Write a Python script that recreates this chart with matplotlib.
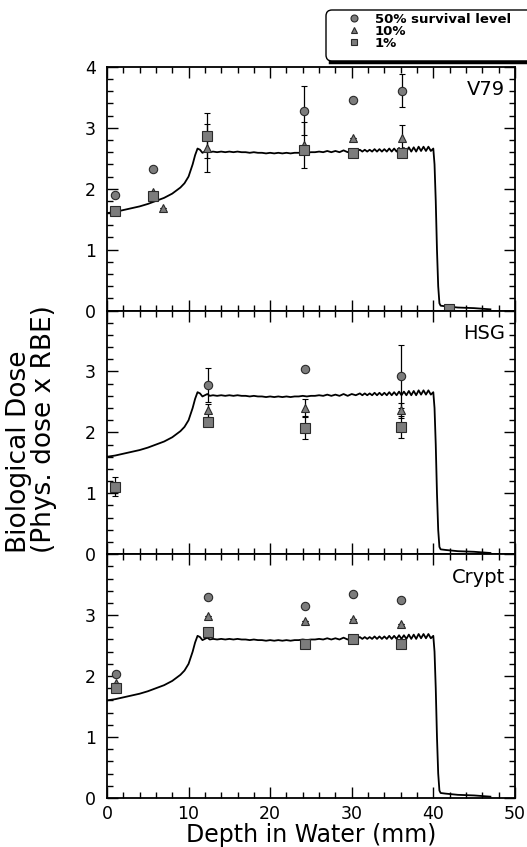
import matplotlib
matplotlib.use("Agg")
import matplotlib.pyplot as plt
from matplotlib.lines import Line2D
from matplotlib.patches import FancyBboxPatch
from matplotlib.ticker import MultipleLocator

# biological dose-depth curve (same curve drawn in every panel)
curve_depth = [0, 1, 2, 3, 4, 5, 6, 7, 8, 9, 9.5, 10, 10.5, 10.8, 11.1, 11.4, 11.7,
               12.0, 12.3, 12.6,
               13.0, 13.5, 14.0, 14.5, 15.0, 15.5, 16.0, 16.5, 17.0, 17.5, 18.0, 18.5,
               19.0, 19.5, 20.0, 20.5, 21.0, 21.5, 22.0, 22.5, 23.0, 23.5, 24.0, 24.5,
               25.0, 25.5, 26.0, 26.5, 27.0, 27.5, 28.0, 28.5, 29.0, 29.5, 30.0, 30.5,
               31.0,
               31.3, 31.6, 31.9, 32.2, 32.5, 32.8, 33.1, 33.4, 33.7, 34.0, 34.3, 34.6,
               34.9, 35.2, 35.5, 35.8, 36.1, 36.4, 36.7, 37.0, 37.3, 37.6, 37.9, 38.2,
               38.5, 38.8, 39.1, 39.4, 39.7, 40.0,
               40.15, 40.3, 40.45, 40.6, 40.75, 40.9, 41.5, 43, 45, 47]
curve_dose = [1.60, 1.62, 1.65, 1.68, 1.71, 1.75, 1.80, 1.85, 1.92, 2.02, 2.09, 2.20,
              2.40, 2.55, 2.66, 2.64, 2.59, 2.61, 2.63, 2.60,
              2.61, 2.60, 2.61, 2.60, 2.61, 2.60, 2.61, 2.60, 2.60, 2.59, 2.60, 2.59,
              2.59, 2.58, 2.59, 2.58, 2.59, 2.58, 2.59, 2.58, 2.59, 2.59, 2.60, 2.59,
              2.60, 2.60, 2.61, 2.60, 2.62, 2.60, 2.62, 2.60, 2.63, 2.60, 2.63, 2.61,
              2.64,
              2.61, 2.64, 2.61, 2.64, 2.61, 2.65, 2.61, 2.65, 2.61, 2.65, 2.61, 2.66,
              2.61, 2.66, 2.61, 2.67, 2.61, 2.67, 2.61, 2.68, 2.61, 2.68, 2.61, 2.69,
              2.62, 2.69, 2.62, 2.69, 2.62, 2.66,
              2.40, 1.80, 1.00, 0.40, 0.12, 0.08, 0.07, 0.05, 0.04, 0.02]

# V79 cells
v79_depth_50 = [1.0, 5.6, 24.2, 30.1, 36.2]
v79_dose_50 = [1.90, 2.32, 3.28, 3.46, 3.61]
v79_err_50 = [0, 0, 0.40, 0, 0.27]
v79_depth_10 = [1.0, 5.6, 6.9, 12.3, 24.2, 30.1, 36.2]
v79_dose_10 = [1.65, 1.95, 1.68, 2.67, 2.72, 2.83, 2.83]
v79_err_10 = [0, 0, 0, 0.40, 0.38, 0, 0.22]
v79_depth_1 = [1.0, 5.6, 12.3, 24.2, 30.1, 36.2, 41.9]
v79_dose_1 = [1.63, 1.88, 2.87, 2.64, 2.58, 2.58, 0.03]
v79_err_1 = [0, 0, 0.37, 0, 0, 0, 0]

# HSG cells
hsg_depth_50 = [12.4, 24.3, 36.1]
hsg_dose_50 = [2.78, 3.04, 2.92]
hsg_err_50 = [0.28, 0, 0.52]
hsg_depth_10 = [12.4, 24.3, 36.1]
hsg_dose_10 = [2.36, 2.40, 2.36]
hsg_err_10 = [0.10, 0.15, 0.12]
hsg_depth_1 = [1.0, 12.4, 24.3, 36.1]
hsg_dose_1 = [1.11, 2.17, 2.08, 2.09]
hsg_err_1 = [0.16, 0, 0.19, 0.18]

# crypt cells
crypt_depth = [1.1, 12.4, 24.3, 30.2, 36.1]
crypt_dose_50 = [2.03, 3.29, 3.15, 3.34, 3.25]
crypt_dose_10 = [1.88, 2.98, 2.91, 2.94, 2.85]
crypt_dose_1 = [1.81, 2.72, 2.52, 2.61, 2.52]
crypt_err = [0, 0, 0, 0, 0]

panel_names = ['V79', 'HSG', 'Crypt']
level_labels = ['50% survival level', '10%', '1%']
level_markers = ['o', '^', 's']
level_sizes = [6, 6, 6.5]

panels = [
    [(v79_depth_50, v79_dose_50, v79_err_50),
     (v79_depth_10, v79_dose_10, v79_err_10),
     (v79_depth_1, v79_dose_1, v79_err_1)],
    [(hsg_depth_50, hsg_dose_50, hsg_err_50),
     (hsg_depth_10, hsg_dose_10, hsg_err_10),
     (hsg_depth_1, hsg_dose_1, hsg_err_1)],
    [(crypt_depth, crypt_dose_50, crypt_err),
     (crypt_depth, crypt_dose_10, crypt_err),
     (crypt_depth, crypt_dose_1, crypt_err)],
]

face = '#7c7c7c'
edge = '#2a2a2a'

fig = plt.figure(figsize=(5.27, 8.47), dpi=100)
axes = fig.subplots(3, 1, sharex=True, gridspec_kw=dict(hspace=0))
fig.subplots_adjust(left=0.203, right=0.977, bottom=0.058, top=0.921)

for i, ax in enumerate(axes):
    ax.plot(curve_depth, curve_dose, color='black', lw=1.3, zorder=2)
    for (x, y, err), m, ms in zip(panels[i], level_markers, level_sizes):
        ax.errorbar(x, y, yerr=err, fmt=m, ms=ms, mfc=face, mec=edge, mew=0.8,
                    ecolor='black', elinewidth=0.9, capsize=2.2, capthick=0.9,
                    zorder=3)

    ax.set_xlim(0, 50)
    ax.set_ylim(0, 4)
    ax.xaxis.set_major_locator(MultipleLocator(10))
    ax.xaxis.set_minor_locator(MultipleLocator(2))
    ax.yaxis.set_major_locator(MultipleLocator(1))
    ax.yaxis.set_minor_locator(MultipleLocator(0.2))
    ax.tick_params(which='both', direction='in', top=True, right=True,
                   width=1.0, labelsize=12.5)
    ax.tick_params(which='major', length=8)
    ax.tick_params(which='minor', length=4)
    ax.tick_params(axis='y', pad=8)
    ax.tick_params(axis='x', pad=5)
    for s in ax.spines.values():
        s.set_linewidth(1.3)
    if i > 0:
        ax.set_yticks([0, 1, 2, 3, 4])
        ax.set_yticklabels(['0', '1', '2', '3', ''])
    ax.text(0.975, 0.945, panel_names[i], transform=ax.transAxes,
            ha='right', va='top', fontsize=14)

axes[2].set_xlabel('Depth in Water (mm)', fontsize=17, labelpad=0)

fig.text(32 / 527, 1 - 553 / 847, 'Biological Dose\n(Phys. dose x RBE)',
         rotation=90, ha='center', va='bottom', multialignment='left',
         fontsize=19, linespacing=0.95)

# legend box in the top right corner
box = FancyBboxPatch((3.26, 7.86), 2.3, 0.51,
                     boxstyle='round,pad=0,rounding_size=0.06',
                     transform=fig.dpi_scale_trans, fc='white', ec='black',
                     lw=1.0, clip_on=False)
fig.add_artist(box)
fig.add_artist(Line2D([3.30, 5.4], [7.855, 7.855], color='black', lw=2.5,
                      transform=fig.dpi_scale_trans))

handles = [Line2D([], [], ls='none', marker=m, ms=5, mfc=face, mec=edge, mew=0.8)
           for m in level_markers]
fig.legend(handles, level_labels, loc='upper left',
           bbox_to_anchor=(347 / 527, 1 - 13 / 847), frameon=False,
           borderpad=0, borderaxespad=0, handlelength=1.0, handletextpad=1.1,
           labelspacing=-0.08, prop=dict(size=9.5, weight='bold'))

fig.savefig('out.png', dpi=100)
